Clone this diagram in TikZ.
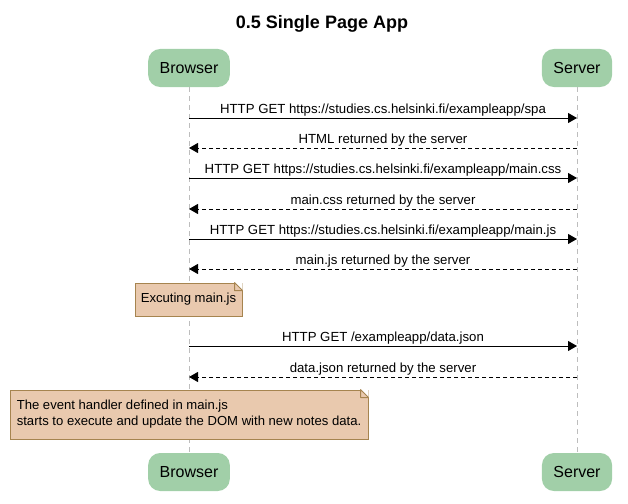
\documentclass[tikz,border=0pt]{standalone}
\usepackage{fontspec}
\setmainfont{Liberation Sans}
\usepackage{xcolor}
\usepackage{tikz}
\usetikzlibrary{arrows.meta}

\definecolor{actorgreen}{HTML}{A1CFA8}
\definecolor{notefill}{HTML}{E9C9AE}
\definecolor{notebrd}{HTML}{A6844F}
\definecolor{lifegray}{HTML}{BDBDBD}

\begin{document}
\begin{tikzpicture}[x=1pt, y=-1pt,
    actor/.style={fill=actorgreen, rounded corners=12pt, minimum height=38pt,
        inner xsep=11.5pt, font=\fontsize{16}{19}\selectfont},
    lifeline/.style={draw=lifegray, line width=0.8pt, dash pattern=on 5pt off 4pt},
    call/.style={line width=1pt, -{Triangle[length=9pt,width=10pt]}},
    reply/.style={call, dash pattern=on 4pt off 3pt},
    msg/.style={font=\fontsize{13.2}{16}\selectfont, anchor=base, yshift=4.5pt, inner sep=0pt},
    note/.style={draw=notebrd, fill=notefill, line width=1pt,
        font=\fontsize{13.1}{16}\selectfont, align=left, inner xsep=5pt}]
        \useasboundingbox (0,0) rectangle (628,503);

        \node[font=\bfseries\fontsize{18}{22}\selectfont, anchor=base] (title) at (322,28.5) {0.5 Single Page App};

        % actors
        \node[actor] (browser) at (189,68) {Browser};
        \node[actor] (server) at (577,68) {Server};
        \node[actor] (browserb) at (189,472) {Browser};
        \node[actor] (serverb) at (577,472) {Server};

        \draw[lifeline] (browser.south) -- (browserb.north);
        \draw[lifeline] (server.south) -- (serverb.north);

        % points on the lifelines
        \foreach \i/\y in {1/118, 2/148, 3/178, 4/209, 5/239, 6/269, 7/346, 8/377} {
            \coordinate (b\i) at (189,\y);
            \coordinate (s\i) at (577,\y);
        }

        \draw[call] (b1) -- node[msg] (m1) {HTTP GET https://studies.cs.helsinki.fi/exampleapp/spa} (s1);
        \draw[reply] (s2) -- node[msg] (m2) {HTML returned by the server} (b2);
        \draw[call] (b3) -- node[msg] (m3) {HTTP GET https://studies.cs.helsinki.fi/exampleapp/main.css} (s3);
        \draw[reply] (s4) -- node[msg] (m4) {main.css returned by the server} (b4);
        \draw[call] (b5) -- node[msg] (m5) {HTTP GET https://studies.cs.helsinki.fi/exampleapp/main.js} (s5);
        \draw[reply] (s6) -- node[msg] (m6) {main.js returned by the server} (b6);

        \node[note, minimum width=107pt, minimum height=33pt] (note1) at (188.5,299.5) {Excuting main.js};
        \fill[white] (note1.north east) -- ++(-8,0) -- ++(8,8) -- cycle;
        \draw[notebrd, fill=notefill, line width=1pt, line join=bevel] ([xshift=-8pt]note1.north east) -- ++(0,8) -- ++(8,0) -- cycle;

        \draw[call] (b7) -- node[msg] (m7) {HTTP GET /exampleapp/data.json} (s7);
        \draw[reply] (s8) -- node[msg] (m8) {data.json returned by the server} (b8);

        \node[note, minimum width=358pt, minimum height=49pt] (note2) at (189,414.5) {The event handler defined in main.js\\starts to execute and update the DOM with new notes data.};
        \fill[white] (note2.north east) -- ++(-8,0) -- ++(8,8) -- cycle;
        \draw[notebrd, fill=notefill, line width=1pt, line join=bevel] ([xshift=-8pt]note2.north east) -- ++(0,8) -- ++(8,0) -- cycle; % fold
    \end{tikzpicture}
\end{document}
